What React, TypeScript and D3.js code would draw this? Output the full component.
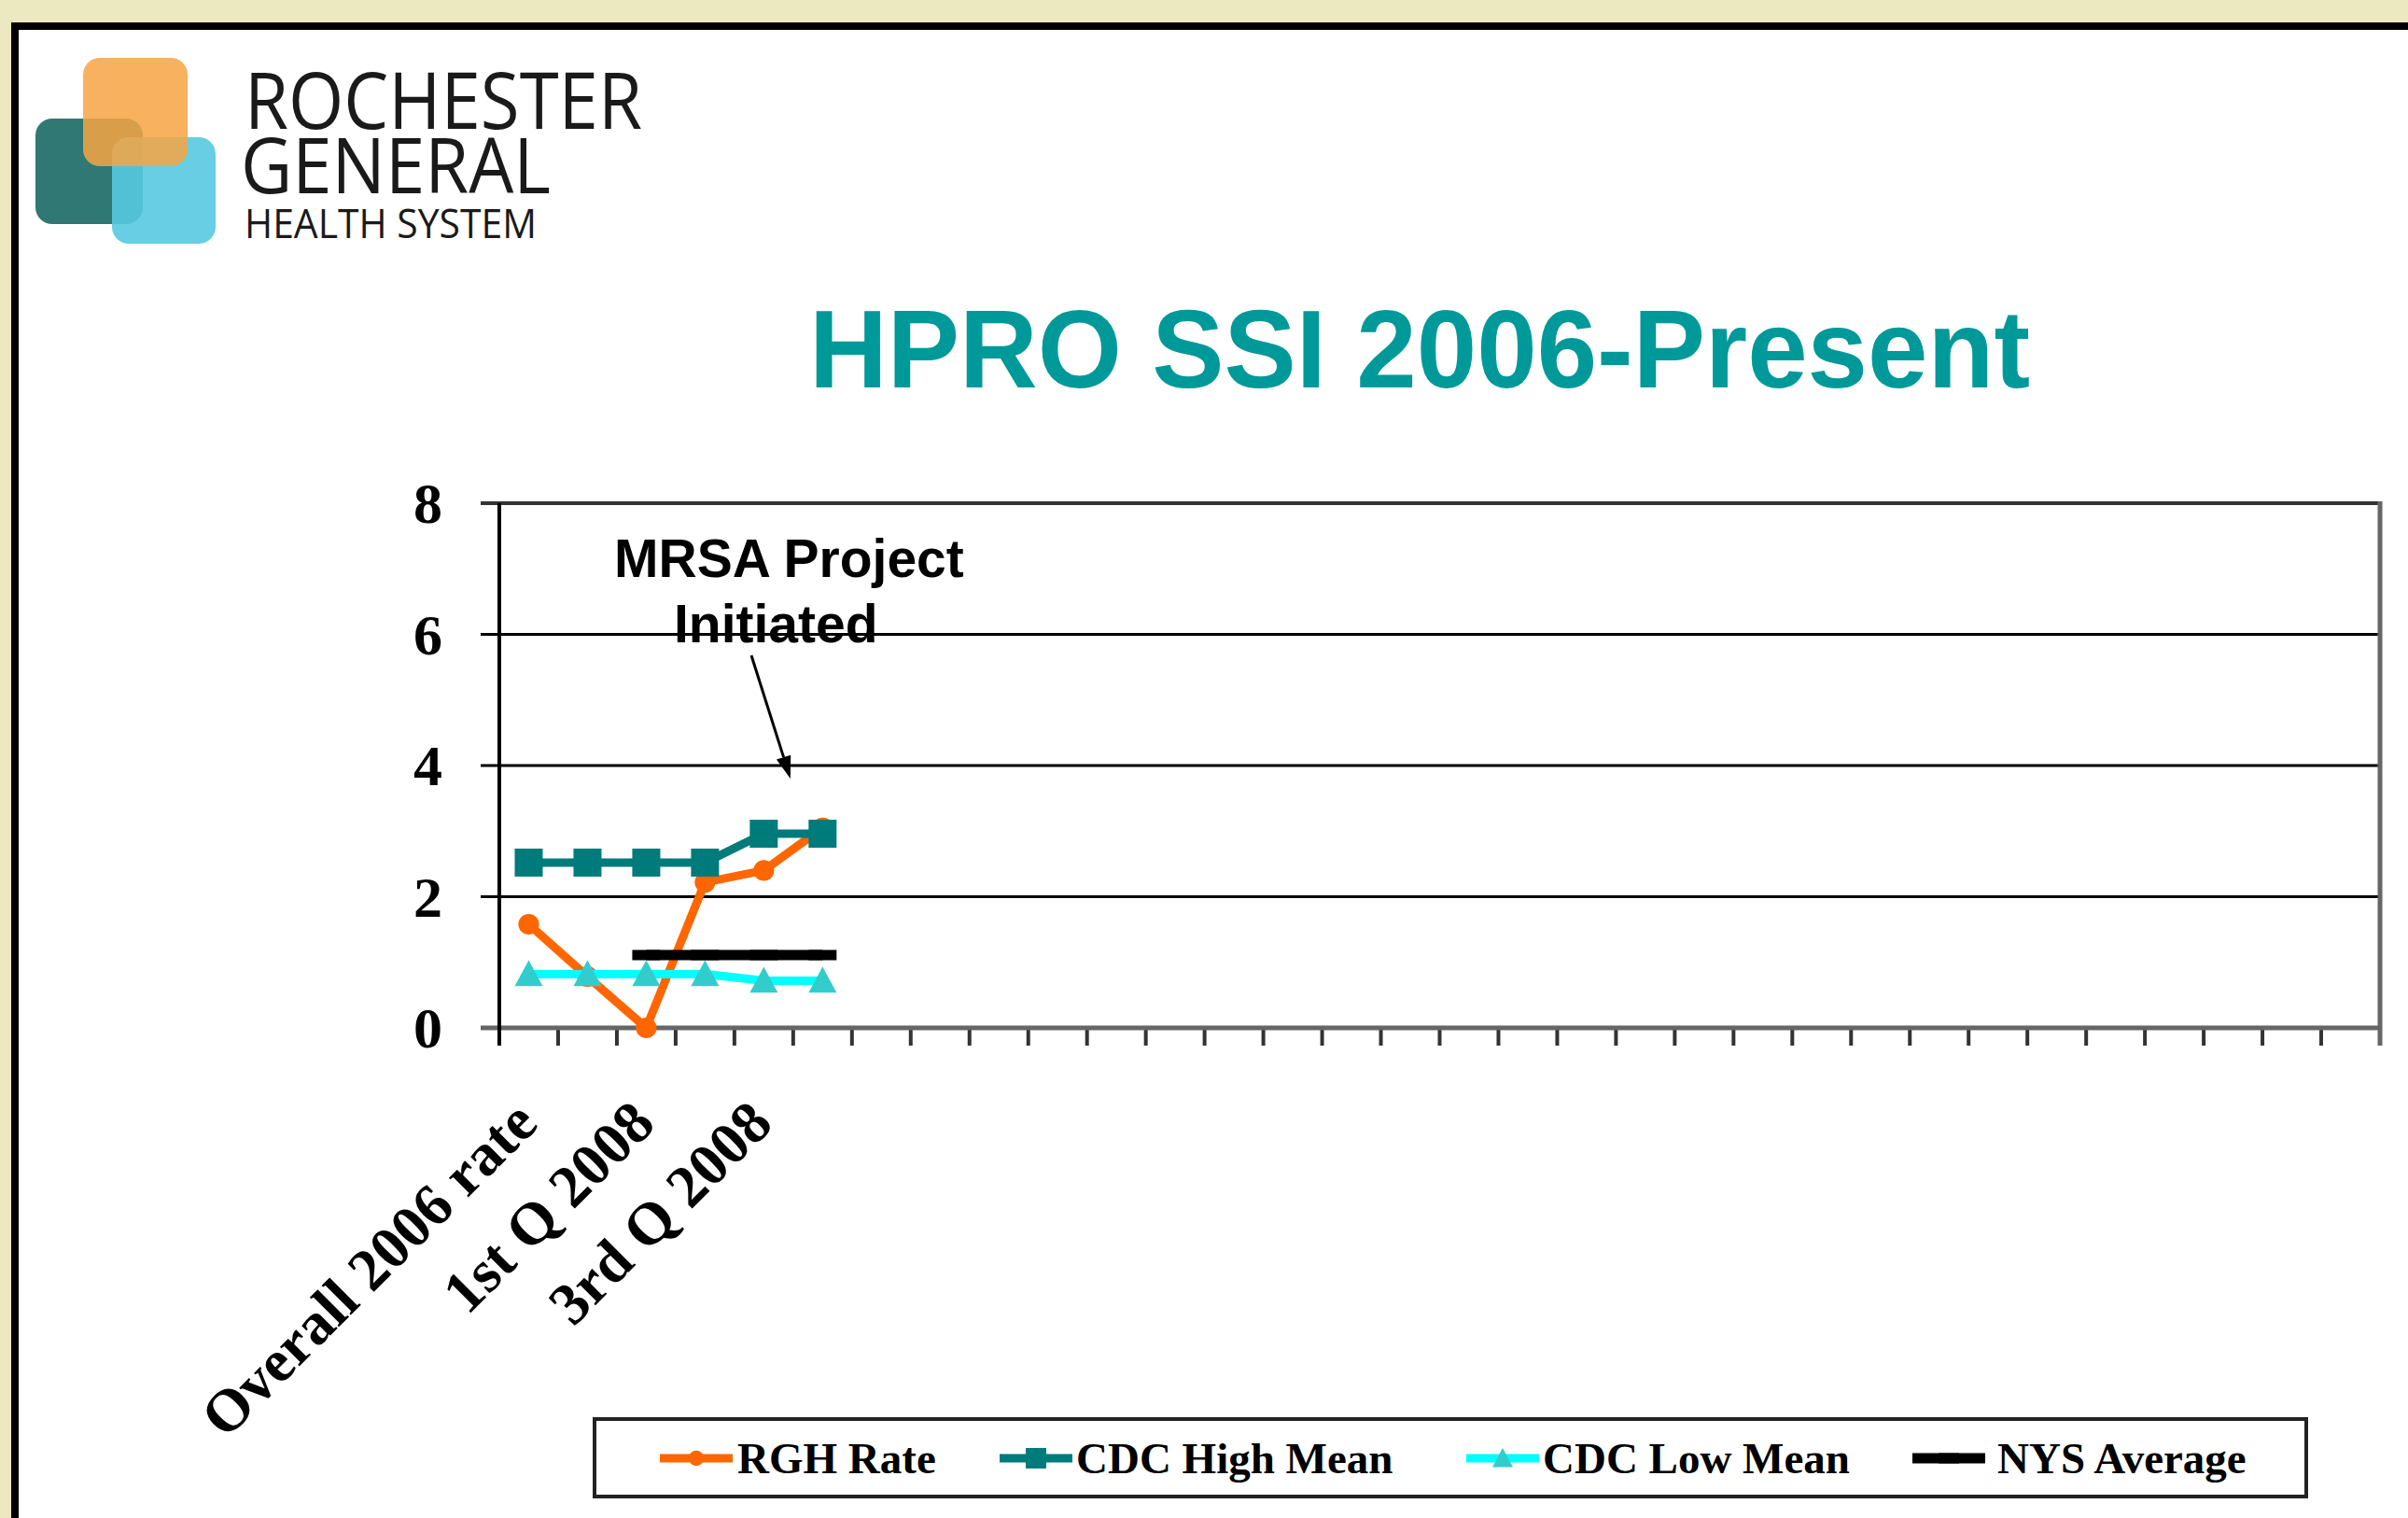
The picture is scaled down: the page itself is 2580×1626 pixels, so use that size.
import * as d3 from "d3";

// category slots on the x axis (Excel skipped every other label)
const categoryLabels = ["Overall 2006 rate", "", "1st Q 2008", "", "3rd Q 2008", ""];
const slotCount = 32;

const rghRate = [1.58, 0.78, 0, 2.22, 2.4, 3.05];
const cdcHighMean = [2.52, 2.52, 2.52, 2.52, 2.96, 2.96];
const cdcLowMean = [0.82, 0.82, 0.82, 0.82, 0.72, 0.72];
const nysAverage = [null, null, 1.11, 1.11, 1.11, 1.11];

const yTicks = [0, 2, 4, 6, 8];

const legendNames = ["RGH Rate", "CDC High Mean", "CDC Low Mean", "NYS Average"];

const W = 2580;
const H = 1626;

const serif = "'Liberation Serif', 'Times New Roman', serif";
const sans = "'Liberation Sans', Arial, sans-serif";

function marker(kind: string, x: number, y: number, s: number, key: string) {
  if (kind === "circle")
    return <circle key={key} cx={x} cy={y} r={s * 0.37} fill="#FF6600" />;
  if (kind === "square")
    return <rect key={key} x={x - s / 2} y={y - s / 2} width={s} height={s} fill="#007B7B" />;
  if (kind === "triangle")
    return (
      <path
        key={key}
        d={`M${x},${y - s / 2}L${x + s / 2},${y + s * 0.43}L${x - s / 2},${y + s * 0.43}Z`}
        fill="#33CCCC"
      />
    );
  return <rect key={key} x={x - s * 0.5} y={y - 5.5} width={s} height={11} fill="#000" />;
}

export default function App() {
  const plot = { left: 535, right: 2550, top: 539, bottom: 1101 };

  const x = d3.scaleBand<number>().domain(d3.range(slotCount)).range([plot.left, plot.right]);
  const y = d3.scaleLinear().domain([0, 8]).range([plot.bottom, plot.top]);
  const cx = (i: number) => (x(i) as number) + x.bandwidth() / 2;

  const line = d3
    .line<number | null>()
    .defined((d) => d != null)
    .x((_, i) => cx(i))
    .y((d) => y(d as number));

  const series = [
    { name: legendNames[0], values: rghRate, stroke: "#FF6600", width: 9, kind: "circle" },
    { name: legendNames[1], values: cdcHighMean, stroke: "#007B7B", width: 9, kind: "square" },
    { name: legendNames[2], values: cdcLowMean, stroke: "#00FFFF", width: 9, kind: "triangle" },
    { name: legendNames[3], values: nysAverage, stroke: "#000000", width: 11, kind: "dash" },
  ];

  // annotation arrow, tip just above the 4 gridline
  const tip = [(x(5) as number) - 3, y(3.8)];
  const tail = [805, 702];
  const len = Math.hypot(tip[0] - tail[0], tip[1] - tail[1]);
  const ux = (tip[0] - tail[0]) / len;
  const uy = (tip[1] - tail[1]) / len;
  const hb = [tip[0] - ux * 24, tip[1] - uy * 24];
  const head = `M${tip[0]},${tip[1]}L${hb[0] - uy * 8},${hb[1] + ux * 8}L${hb[0] + uy * 8},${hb[1] - ux * 8}Z`;

  const legendItems = [
    { lineX: 707, textX: 790 },
    { lineX: 1071, textX: 1153 },
    { lineX: 1571, textX: 1653 },
    { lineX: 2049, textX: 2140 },
  ];

  return (
    <>
      <style>{`body{margin:0;} svg{display:block;}`}</style>
      <svg width={W} height={H} viewBox={`0 0 ${W} ${H}`}>
        <rect x={0} y={0} width={W} height={H} fill="#ECE9C1" />
        <rect x={16} y={28} width={W + 40} height={H + 40} fill="#FFFFFF" stroke="#000" strokeWidth={8} />

        {/* logo */}
        <g>
          <rect x={38} y={127} width={115} height={113} rx={18} fill="#2F7874" />
          <rect x={120} y={147} width={111} height={114} rx={18} fill="#56C9E0" opacity={0.9} />
          <rect x={89} y={62} width={112} height={116} rx={18} fill="#F7A443" opacity={0.85} />
          <text x={262} y={138} fontFamily="'Open Sans', sans-serif" fontSize={84} fill="#1a1a1a" textLength={426} lengthAdjust="spacingAndGlyphs">
            ROCHESTER
          </text>
          <text x={258} y={207} fontFamily="'Open Sans', sans-serif" fontSize={82} fill="#1a1a1a" textLength={332} lengthAdjust="spacingAndGlyphs">
            GENERAL
          </text>
          <text x={262} y={255} fontFamily="'Open Sans', sans-serif" fontSize={43} fill="#1a1a1a" textLength={313} lengthAdjust="spacingAndGlyphs">
            HEALTH SYSTEM
          </text>
        </g>

        {/* title */}
        <text x={1521} y={415} textAnchor="middle" fontFamily={sans} fontWeight="bold" fontSize={118} fill="#009999" textLength={1308} lengthAdjust="spacingAndGlyphs">
          HPRO SSI 2006-Present
        </text>

        {/* grid and frame */}
        {yTicks.filter((t) => t > 0 && t < 8).map((t) => (
          <line key={t} x1={plot.left - 20} x2={plot.right} y1={y(t)} y2={y(t)} stroke="#000" strokeWidth={3} />
        ))}
        <line x1={plot.left - 20} x2={plot.right} y1={y(8)} y2={y(8)} stroke="#333" strokeWidth={4} />
        <line x1={plot.right} x2={plot.right} y1={y(8) - 2} y2={plot.bottom + 19} stroke="#666" strokeWidth={5} />
        {d3.range(1, slotCount).map((i) => (
          <line key={i} x1={x(i)} x2={x(i)} y1={plot.bottom} y2={plot.bottom + 19} stroke="#333" strokeWidth={4} />
        ))}
        <line x1={plot.left - 20} x2={plot.right + 2} y1={y(0)} y2={y(0)} stroke="#666" strokeWidth={5} />
        <line x1={plot.left} x2={plot.left} y1={y(8)} y2={plot.bottom + 19} stroke="#000" strokeWidth={4} />

        {yTicks.map((t) => (
          <text key={t} x={474} y={y(t)} dy="0.34em" textAnchor="end" fontFamily={serif} fontWeight="bold" fontSize={62}>
            {t}
          </text>
        ))}

        {categoryLabels.map((c, i) =>
          c && i % 2 === 0 ? (
            <text
              key={i}
              transform={`translate(${cx(i) + 12},${plot.bottom + 105}) rotate(-45)`}
              textAnchor="end"
              fontFamily={serif}
              fontWeight="bold"
              fontSize={64}
            >
              {c}
            </text>
          ) : null
        )}

        {/* series */}
        {series.map((s) => (
          <g key={s.name}>
            <path d={line(s.values) || ""} fill="none" stroke={s.stroke} strokeWidth={s.width} strokeLinejoin="round" />
            {s.values.map((v, i) => (v == null ? null : marker(s.kind, cx(i), y(v), 30, s.name + i)))}
          </g>
        ))}

        {/* annotation */}
        <text x={658} y={618} fontFamily={sans} fontWeight="bold" fontSize={57}>
          MRSA Project
        </text>
        <text x={722} y={688} fontFamily={sans} fontWeight="bold" fontSize={57}>
          Initiated
        </text>
        <line x1={tail[0]} y1={tail[1]} x2={hb[0]} y2={hb[1]} stroke="#000" strokeWidth={3} />
        <path d={head} fill="#000" />

        {/* legend */}
        <rect x={637} y={1520} width={1834} height={83} fill="#fff" stroke="#222" strokeWidth={4} />
        {series.map((s, k) => (
          <g key={s.name}>
            <line x1={legendItems[k].lineX} x2={legendItems[k].lineX + 78} y1={1562} y2={1562} stroke={s.stroke} strokeWidth={s.width} />
            {marker(s.kind, legendItems[k].lineX + 39, 1562, 22, "lg" + k)}
            <text x={legendItems[k].textX} y={1578} fontFamily={serif} fontWeight="bold" fontSize={47}>
              {s.name}
            </text>
          </g>
        ))}
      </svg>
    </>
  );
}
